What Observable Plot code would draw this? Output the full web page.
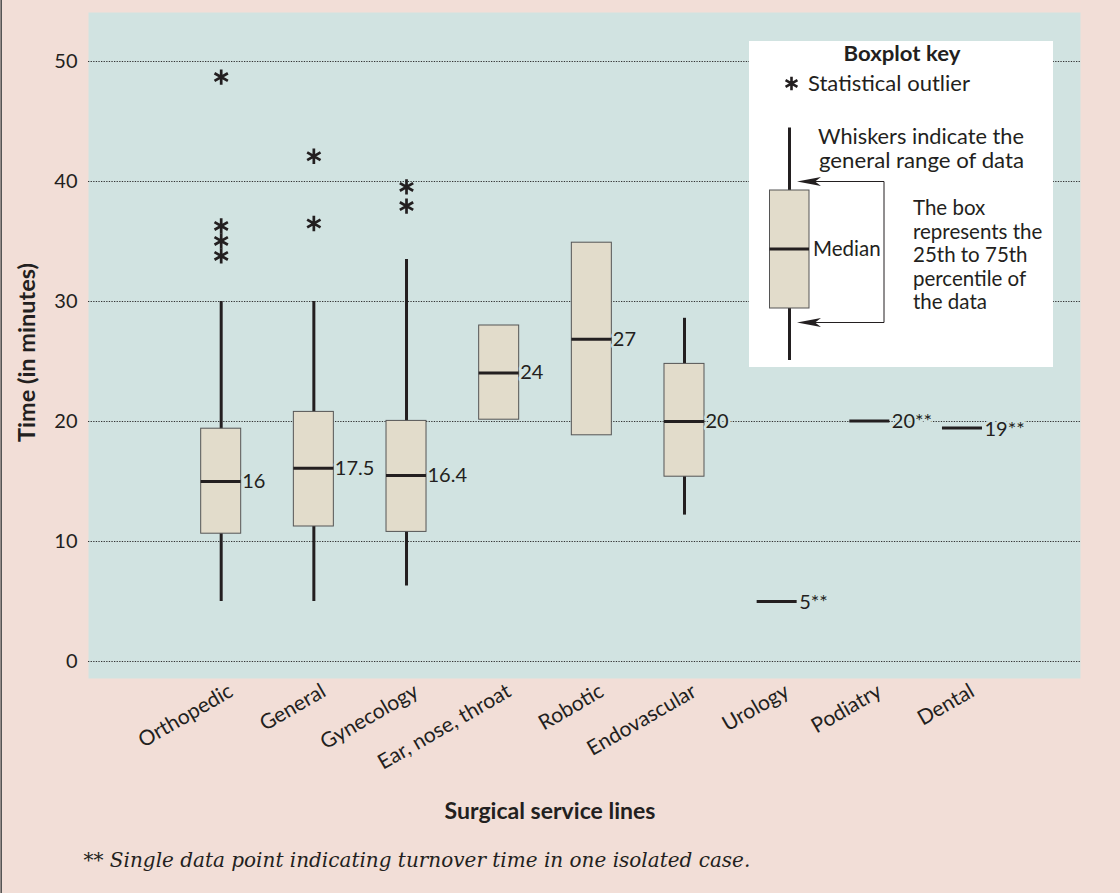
<!DOCTYPE html>
<html><head><meta charset="utf-8">
<script src="https://cdn.jsdelivr.net/npm/d3@7"></script>
<script src="https://cdn.jsdelivr.net/npm/@observablehq/plot@0.6"></script>
<style>
html,body{margin:0;padding:0;background:#f2ded7;}
#chart{width:1120px;height:893px;position:relative;}
</style></head><body><div id="chart"></div>
<script>
const categories = ["Orthopedic","General","Gynecology","Ear, nose, throat","Robotic","Endovascular","Urology","Podiatry","Dental"];
const boxCategories = ["Orthopedic","General","Gynecology","Ear, nose, throat","Robotic","Endovascular"];
const q1Values = [10.65, 11.25, 10.8, 20.15, 18.85, 15.4];
const medianValues = [15.0, 16.1, 15.5, 24.05, 26.85, 20.0];
const q3Values = [19.4, 20.8, 20.05, 28.0, 34.9, 24.8];
const medianLabels = ["16","17.5","16.4","24","27","20"];
const whiskerCategories = ["Orthopedic","General","Gynecology","Endovascular"];
const whiskerLow = [5, 5, 6.3, 12.2];
const whiskerHigh = [30, 30, 33.5, 28.6];
const singleCategories = ["Urology","Podiatry","Dental"];
const singleValues = [5, 20.05, 19.45];
const singleLabels = ["5**","20**","19**"];
const outlierCategories = ["Orthopedic","Orthopedic","Orthopedic","Orthopedic","General","General","Gynecology","Gynecology"];
const outlierValues = [48.7, 36.3, 35.05, 33.8, 42.1, 36.5, 39.55, 37.95];
const yTicks = [0, 10, 20, 30, 40, 50];
const xTitle = "Surgical service lines";
const yTitle = "Time (in minutes)";
const footnote = "** Single data point indicating turnover time in one isolated case.";

const TEAL = "#d1e3e1", PINK = "#f2ded7", BEIGE = "#e2dccb", INK = "#231f20";
const SANS = "Lato, 'Open Sans', sans-serif";

const boxes = boxCategories.map((c, i) => ({cat: c, q1: q1Values[i], med: medianValues[i], q3: q3Values[i], label: medianLabels[i]}));
const whiskers = whiskerCategories.map((c, i) => ({cat: c, lo: whiskerLow[i], hi: whiskerHigh[i]}));
const singles = singleCategories.map((c, i) => ({cat: c, v: singleValues[i], label: singleLabels[i]}));
const outliers = outlierCategories.map((c, i) => ({cat: c, v: outlierValues[i]}));

const svg = Plot.plot({
  width: 1120, height: 893,
  marginLeft: 88, marginRight: 40, marginTop: 12, marginBottom: 215,
  style: {background: PINK, fontFamily: SANS, color: INK, overflow: "visible"},
  x: {type: "band", domain: categories, paddingInner: 0.5683, paddingOuter: 1.137, align: 0.5348, round: false, label: null},
  y: {domain: [-17/12, 666/12 - 17/12], label: null},
  marks: [
    Plot.frame({fill: TEAL, stroke: "none"}),
    Plot.ruleY(yTicks, {stroke: "#333", strokeWidth: 1, strokeDasharray: "1.3,1.3"}),
    Plot.ruleX(whiskers, {x: "cat", y1: "lo", y2: "hi", stroke: INK, strokeWidth: 3}),
    Plot.barY(boxes, {x: "cat", y1: "q1", y2: "q3", fill: BEIGE, stroke: "#555", strokeWidth: 1}),
    Plot.tickY(boxes, {x: "cat", y: "med", stroke: INK, strokeWidth: 3}),
    Plot.tickY(singles, {x: "cat", y: "v", stroke: INK, strokeWidth: 3}),
    Plot.text(boxes, {x: "cat", y: "med", text: "label", dx: 21, textAnchor: "start", fontSize: 20, fill: INK, stroke: TEAL, strokeWidth: 5, paintOrder: "stroke"}),
    Plot.text(singles, {x: "cat", y: "v", text: "label", dx: 22, dy: 1, textAnchor: "start", fontSize: 20, fill: INK, stroke: TEAL, strokeWidth: 5, paintOrder: "stroke"}),
    Plot.dot(outliers, {x: "cat", y: "v", symbol: "asterisk", r: 7.3, stroke: INK, strokeWidth: 2.7}),
    Plot.axisY(yTicks, {tickSize: 0, tickPadding: 11, fontSize: 20, label: null}),
    Plot.axisX({tickSize: 0, tickRotate: -30, tickPadding: 11, dx: 10, fontSize: 21, label: null}),
    Plot.text([xTitle], {text: d => d, frameAnchor: "bottom", dx: -34.5, dy: 140, fontWeight: "bold", fontSize: 22, fill: INK}),
    Plot.text([yTitle], {text: d => d, frameAnchor: "left", textAnchor: "middle", dx: -61, dy: 7, rotate: -90, fontWeight: "bold", fontSize: 22, fill: INK}),
    Plot.text([footnote], {text: d => d, frameAnchor: "bottom-left", dx: -5, dy: 188, textAnchor: "start", fontStyle: "italic", fontSize: 20, fontFamily: "'DejaVu Serif', serif", fill: INK})
  ]
});

// condense the bold titles to the reference widths
d3.select(svg).selectAll("text").filter(function() { return this.textContent === xTitle; })
  .attr("textLength", 211).attr("lengthAdjust", "spacingAndGlyphs");
d3.select(svg).selectAll("text").filter(function() { return this.textContent === yTitle; })
  .attr("textLength", 179).attr("lengthAdjust", "spacingAndGlyphs");

// Boxplot key (legend)
const g = d3.select(svg).append("g").attr("class", "boxplot-key").attr("text-anchor", "start");
g.append("line").attr("x1", 1.2).attr("x2", 1.2).attr("y1", 0).attr("y2", 893).attr("stroke", "#555").attr("stroke-width", 1.6);
g.append("rect").attr("x", 749).attr("y", 41).attr("width", 304).attr("height", 326).attr("fill", "#fff");
g.append("text").attr("x", 902).attr("y", 61).attr("text-anchor", "middle").attr("font-family", SANS).attr("font-weight", "bold").attr("font-size", 21.5)
  .attr("textLength", 117).attr("lengthAdjust", "spacingAndGlyphs").attr("fill", INK).text("Boxplot key");
g.append("path").attr("d", d3.symbol(d3.symbolAsterisk, Math.PI * 42)()).attr("transform", "translate(791.5,83.5)").attr("stroke", INK).attr("stroke-width", 2.6).attr("fill", "none");
const keyText = (x, y, s, w) => {
  const t = g.append("text").attr("x", x).attr("y", y).attr("text-anchor", "start").attr("font-family", SANS).attr("font-size", 20.5).attr("fill", INK).text(s);
  if (w) t.attr("textLength", w).attr("lengthAdjust", "spacingAndGlyphs");
  return t;
};
keyText(808, 90.5, "Statistical outlier", 162);
keyText(818, 144, "Whiskers indicate the", 206);
keyText(819, 168, "general range of data", 205);
keyText(913, 215, "The box");
keyText(913, 238.5, "represents the");
keyText(913, 262, "25th to 75th");
keyText(913, 285.5, "percentile of");
keyText(913, 309, "the data");
g.append("line").attr("x1", 789.5).attr("x2", 789.5).attr("y1", 127.5).attr("y2", 360).attr("stroke", INK).attr("stroke-width", 3);
g.append("rect").attr("x", 769.5).attr("y", 190).attr("width", 39.5).attr("height", 118).attr("fill", BEIGE).attr("stroke", "#555").attr("stroke-width", 1);
g.append("line").attr("x1", 769.5).attr("x2", 809).attr("y1", 249).attr("y2", 249).attr("stroke", INK).attr("stroke-width", 3);
keyText(813, 256, "Median");
g.append("path").attr("d", "M814,181.5H884V322.5H814").attr("fill", "none").attr("stroke", INK).attr("stroke-width", 1);
g.append("path").attr("d", "M797,181.5L821,177L815,181.5L821,186Z").attr("fill", INK);
g.append("path").attr("d", "M797,322.5L821,318L815,322.5L821,327Z").attr("fill", INK);

document.getElementById("chart").appendChild(svg);
</script></body></html>
